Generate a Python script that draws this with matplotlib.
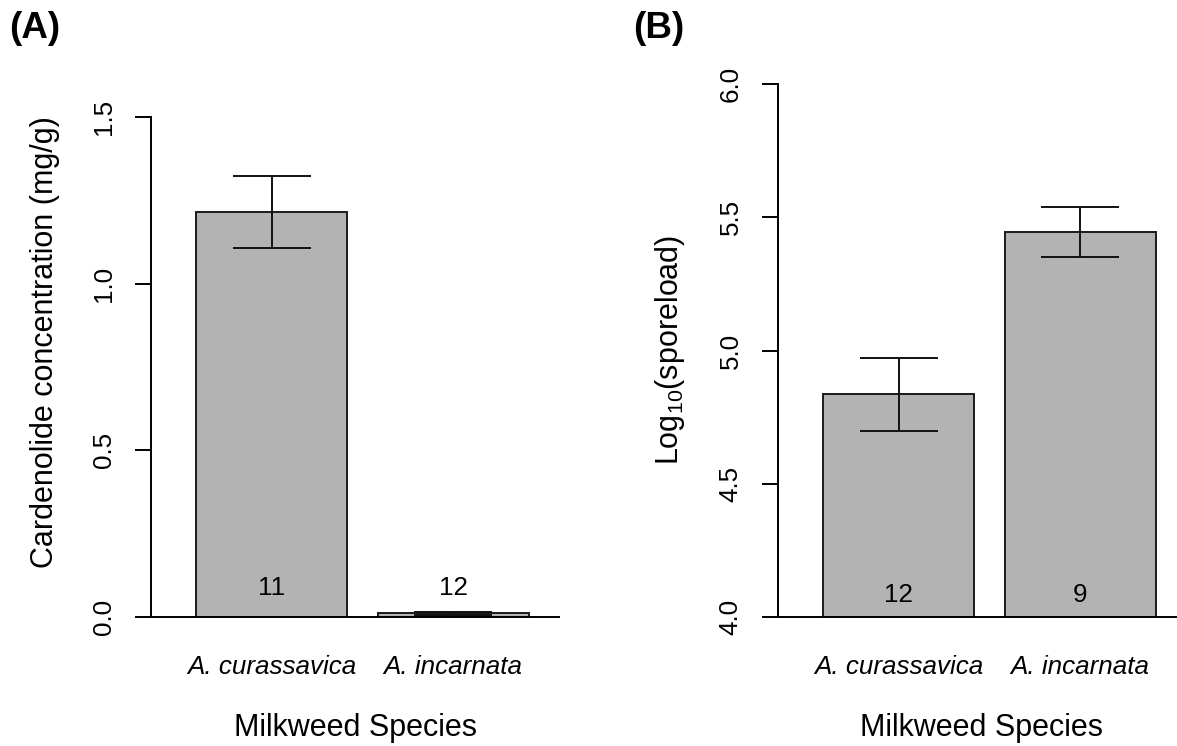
import numpy as np
import matplotlib
matplotlib.use('Agg')
import matplotlib.pyplot as plt

# values
species = ['A. curassavica', 'A. incarnata']
cardenolide_mean = [1.216, 0.011]
cardenolide_se = [0.108, 0.004]
cardenolide_n = [11, 12]
spore_mean = [4.835, 5.444]
spore_se = [0.137, 0.094]
spore_n = [12, 9]

plt.rcParams['font.family'] = ['Liberation Sans', 'DejaVu Sans']
plt.rcParams['mathtext.fontset'] = 'custom'
plt.rcParams['mathtext.rm'] = 'Liberation Sans'
plt.rcParams['mathtext.it'] = 'Liberation Sans:italic'

W, H = 1177, 746
fig = plt.figure(figsize=(W / 100, H / 100), dpi=100)


def px_axes(left, right, top, bottom):
    return fig.add_axes([left / W, 1 - bottom / H, (right - left) / W, (bottom - top) / H])


def bar_panel(ax, means, ses, ns, ylim, yticks, n_offset):
    # R barplot layout: width 1, space 0.2
    x = 0.2 + np.arange(len(means)) * 1.2 + 0.5
    heights = [m - ylim[0] for m in means]
    ax.bar(x, heights, width=1, bottom=ylim[0], color='#b3b3b3',
           edgecolor='#1a1a1a', linewidth=1.4, zorder=2)
    ax.errorbar(x, means, yerr=ses, fmt='none', ecolor='#111111',
                elinewidth=1.4, capsize=28, capthick=1.4, zorder=3)
    for xi, n in zip(x, ns):
        ax.annotate(str(n), (xi, ylim[0]), xytext=(0, n_offset), textcoords='offset pixels',
                    ha='center', va='baseline', fontsize=18.7)
    ax.set_xlim(-0.1, 2.6)
    ax.set_ylim(*ylim)
    ax.set_yticks(yticks)
    ax.set_yticklabels(['%.1f' % t for t in yticks])
    ax.set_xticks(x)
    ax.set_xticklabels(species, fontstyle='italic', fontsize=18.7)
    ax.tick_params(axis='x', length=0, pad=27.6)
    ax.tick_params(axis='y', length=11.5, width=1.4, pad=13.8, labelsize=18.7)
    for lab in ax.get_yticklabels():
        lab.set_rotation(90)
        lab.set_va('center')
        lab.set_ha('right')
    for s in ['top', 'right']:
        ax.spines[s].set_visible(False)
    ax.spines['left'].set_bounds(yticks[0], yticks[-1])
    ax.spines['left'].set_linewidth(1.4)
    ax.spines['bottom'].set_linewidth(1.4)
    ax.set_facecolor('none')
    pos = ax.get_position()
    fig.text((pos.x0 + pos.x1) / 2, 1 - 736 / H, 'Milkweed Species',
             ha='center', va='baseline', fontsize=22)


axA = px_axes(151, 559, 84, 617)
bar_panel(axA, cardenolide_mean, cardenolide_se, cardenolide_n,
          (0, 1.6), [0.0, 0.5, 1.0, 1.5], 22)
fig.text(53 / W, 1 - 342 / H, 'Cardenolide concentration (mg/g)', rotation=90,
         rotation_mode='anchor', ha='center', va='baseline', fontsize=22)
fig.text(9 / W, 1 - 38 / H, '(A)', fontsize=26.5, fontweight='bold', ha='left', va='baseline')

axB = px_axes(778, 1185.7, 84, 617)
bar_panel(axB, spore_mean, spore_se, spore_n,
          (4.0, 6.0), [4.0, 4.5, 5.0, 5.5, 6.0], 15)
fig.text(678 / W, 1 - 350 / H, r'Log$_{10}$(sporeload)', rotation=90,
         rotation_mode='anchor', ha='center', va='baseline', fontsize=22)
fig.text(633 / W, 1 - 38 / H, '(B)', fontsize=26.5, fontweight='bold', ha='left', va='baseline')

fig.savefig('out.png', dpi=100)
